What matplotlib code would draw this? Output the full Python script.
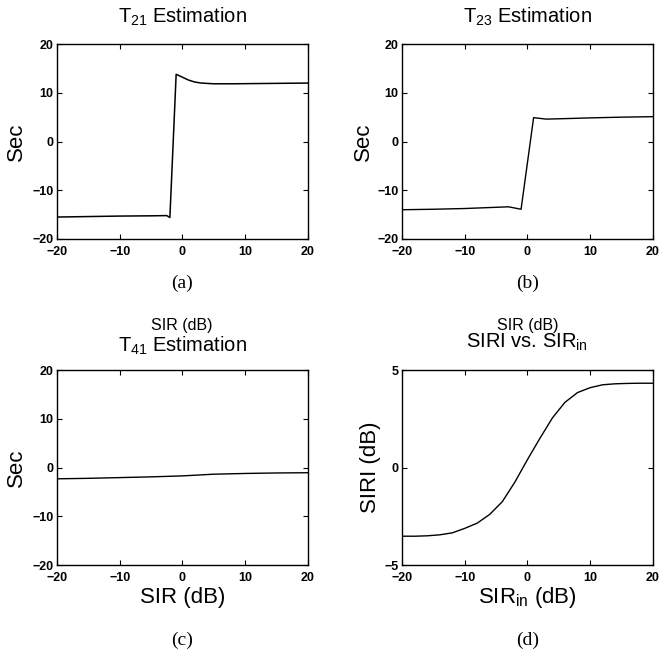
import numpy as np
import matplotlib
matplotlib.use('Agg')
import matplotlib.pyplot as plt

plt.rcParams['font.family'] = ['Liberation Sans', 'DejaVu Sans']
plt.rcParams['mathtext.fontset'] = 'custom'
plt.rcParams['mathtext.rm'] = 'Liberation Sans'

# (a) T21 estimation
t21_x = [-20, -15, -10, -5, -2.5, -2.0, -1.0, 0.0, 1.0, 2.0, 3.0, 5.0, 8.0, 12.0, 16.0, 20.0]
t21_y = [-15.5, -15.4, -15.3, -15.25, -15.2, -15.6, 13.8, 13.2, 12.6, 12.2, 12.0, 11.85, 11.85, 11.9, 11.95, 12.0]

# (b) T23 estimation
t23_x = [-20, -15, -10, -5, -3, -1.0, 1.0, 2.0, 3.0, 6.0, 10.0, 15.0, 20.0]
t23_y = [-14.0, -13.9, -13.75, -13.5, -13.4, -13.9, 4.9, 4.75, 4.6, 4.7, 4.85, 5.0, 5.1]

# (c) T41 estimation
t41_x = [-20, -15, -10, -5, 0, 5, 10, 15, 20]
t41_y = [-2.3, -2.2, -2.05, -1.9, -1.7, -1.35, -1.2, -1.1, -1.05]

# (d) SIRI vs SIR_in
siri_x = [-20, -18, -16, -14, -12, -10, -8, -6, -4, -2, 0, 2, 4, 6, 8, 10, 12, 14, 16, 18, 20]
siri_y = [-3.52, -3.52, -3.5, -3.45, -3.35, -3.12, -2.85, -2.4, -1.75, -0.75, 0.4,
          1.5, 2.55, 3.35, 3.85, 4.1, 4.25, 4.3, 4.32, 4.33, 4.33]

fig = plt.figure(figsize=(6.6, 6.54), dpi=100)

W, H = 0.380, 0.298
positions = {
    'a': [0.0864, 0.6346, W, H],
    'b': [0.609, 0.6346, W, H],
    'c': [0.0864, 0.136, W, H],
    'd': [0.609, 0.136, W, H],
}

TITLE_FS = 14.5
LABEL_FS = 16


def style(ax, ylim, yticks):
    ax.set_xlim(-20, 20)
    ax.set_ylim(*ylim)
    ax.set_xticks([-20, -10, 0, 10, 20])
    ax.set_yticks(yticks)
    ax.tick_params(direction='in', top=True, right=True, length=3.5, width=0.8,
                   labelsize=9, pad=2.5)
    ax.tick_params(axis='x', pad=5)
    for lbl in ax.get_xticklabels() + ax.get_yticklabels():
        lbl.set_fontweight('bold')
    for s in ax.spines.values():
        s.set_linewidth(1.0)


def ylabel(ax, text, xpos):
    ax.set_ylabel(text, fontsize=LABEL_FS, va='center')
    ax.yaxis.set_label_coords(xpos, 0.5)


def xlabel(ax, text):
    ax.set_xlabel(text, fontsize=LABEL_FS, va='center')
    ax.xaxis.set_label_coords(0.5, -0.165)


ax_a = fig.add_axes(positions['a'])
ax_a.plot(t21_x, t21_y, color='black', lw=1.1)
style(ax_a, (-20, 20), [-20, -10, 0, 10, 20])
ylabel(ax_a, 'Sec', -0.163)
ax_a.set_title(r'T$_{21}$ Estimation', fontsize=TITLE_FS, pad=15.5)

ax_b = fig.add_axes(positions['b'])
ax_b.plot(t23_x, t23_y, color='black', lw=1.0)
style(ax_b, (-20, 20), [-20, -10, 0, 10, 20])
ylabel(ax_b, 'Sec', -0.155)
ax_b.set_title(r'T$_{23}$ Estimation', fontsize=TITLE_FS, pad=15.5)

ax_c = fig.add_axes(positions['c'])
ax_c.plot(t41_x, t41_y, color='black', lw=1.0)
style(ax_c, (-20, 20), [-20, -10, 0, 10, 20])
ylabel(ax_c, 'Sec', -0.163)
xlabel(ax_c, 'SIR (dB)')
ax_c.set_title(r'T$_{41}$ Estimation', fontsize=TITLE_FS, pad=13)

ax_d = fig.add_axes(positions['d'])
ax_d.plot(siri_x, siri_y, color='black', lw=1.0)
style(ax_d, (-5, 5), [-5, 0, 5])
ylabel(ax_d, 'SIRI (dB)', -0.124)
xlabel(ax_d, r'SIR$_{\mathrm{in}}$ (dB)')
ax_d.set_title(r'SIRI vs. SIR$_{\mathrm{in}}$', fontsize=TITLE_FS, pad=16)

# leftover x labels of the top row that sit above the lower titles
fig.text(0.276, 0.502, 'SIR (dB)', ha='center', va='center', fontsize=11.5)
fig.text(0.799, 0.502, 'SIR (dB)', ha='center', va='center', fontsize=11.5)

# panel captions
for lbl, x, y in [('(a)', 0.276, 0.566), ('(b)', 0.800, 0.566),
                  ('(c)', 0.276, 0.021), ('(d)', 0.800, 0.021)]:
    fig.text(x, y, lbl, ha='center', va='center', fontsize=14,
             family=['Liberation Serif', 'DejaVu Serif'])

fig.savefig('out.png', dpi=100)
